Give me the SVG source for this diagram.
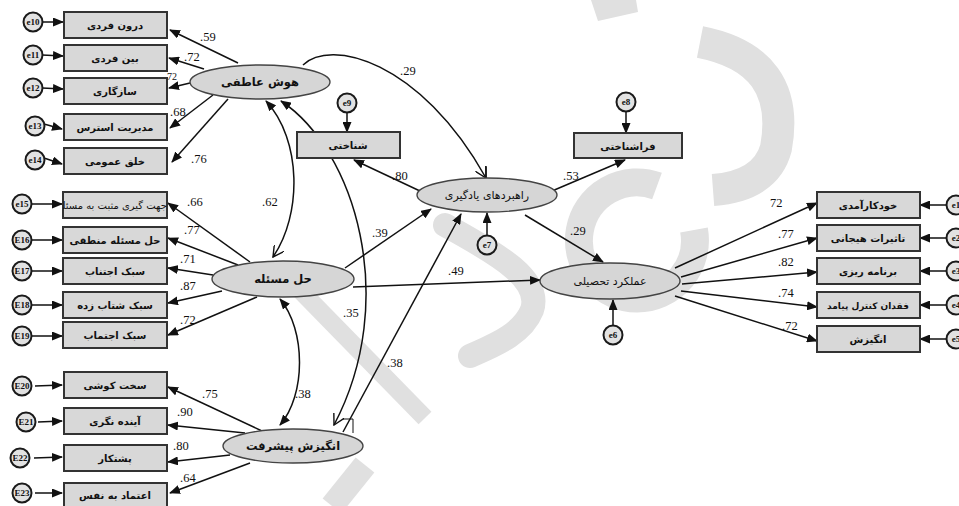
<svg xmlns="http://www.w3.org/2000/svg" width="959" height="506" viewBox="0 0 959 506">
<style>
.box{fill:#d8d8d8;stroke:#333;stroke-width:2}
.lat{fill:#d6d6d6;stroke:#444;stroke-width:1.4}
.err{fill:#e2e2e2;stroke:#1a1a1a;stroke-width:2}
.t{font-family:"DejaVu Sans",sans-serif;font-size:10px;font-weight:bold;fill:#111;text-anchor:middle}
.lt{font-family:"DejaVu Sans",sans-serif;font-size:11.5px;font-weight:bold;fill:#111;text-anchor:middle}
.et{font-family:"Liberation Serif",serif;font-size:9px;font-weight:bold;fill:#111;text-anchor:middle}
.n{font-family:"Liberation Serif",serif;font-size:12.5px;fill:#111}
.c line,.c path{stroke:#111;stroke-width:1.5;fill:none}
.a{marker-end:url(#ah)}
.o{marker-end:url(#ov)}
.wm{fill:none;stroke:#e0e0e0}
</style>
<defs>
<marker id="ah" markerWidth="11" markerHeight="9" refX="10" refY="4.5" orient="auto" markerUnits="userSpaceOnUse"><path d="M0,0 L11,4.5 L0,9 Z" fill="#111"/></marker>
<marker id="as" markerWidth="11" markerHeight="9" refX="10" refY="4.5" orient="auto-start-reverse" markerUnits="userSpaceOnUse"><path d="M0,0 L11,4.5 L0,9 Z" fill="#111"/></marker>
<marker id="ov" markerWidth="12" markerHeight="12" refX="11" refY="6" orient="auto" markerUnits="userSpaceOnUse"><path d="M0,0 L11,6 L0,12" fill="none" stroke="#111" stroke-width="1.4"/></marker>
<clipPath id="cb15"><rect x="63" y="192" width="104" height="26"/></clipPath>
</defs>

<g id="watermark">
<polygon points="591,0 636,0 638,12 598,21" fill="#e0e0e0"/>
<path class="wm" stroke-width="32" d="M700,42 Q792,60 776,148 Q766,186 713,190"/>
<path class="wm" stroke-width="28" d="M657,186 A58,58 0 1 0 694,230"/>
<path class="wm" stroke-width="24" stroke-linecap="round" d="M445,225 C500,255 542,280 532,310 C522,335 492,346 470,356"/>
<path class="wm" stroke-width="18" d="M295,285 L425,418"/>
<path class="wm" stroke-width="24" d="M365,465 L332,506"/>
</g>

<g id="connectors" class="c">
<line class="a" x1="238" y1="63" x2="170" y2="30"/>
<line class="a" x1="204" y1="69" x2="169" y2="58"/>
<line class="a" x1="190" y1="83" x2="169" y2="88"/>
<line class="a" x1="213" y1="95" x2="170" y2="128"/>
<line class="a" x1="228" y1="99" x2="172" y2="162"/>
<line class="a" x1="250" y1="262" x2="168" y2="203"/>
<line class="a" x1="238" y1="265" x2="168" y2="238"/>
<line class="a" x1="213" y1="275" x2="168" y2="268"/>
<line class="a" x1="222" y1="291" x2="168" y2="303"/>
<line class="a" x1="257" y1="297" x2="168" y2="335"/>
<line class="a" x1="262" y1="431" x2="168" y2="387"/>
<line class="a" x1="245" y1="433" x2="168" y2="425"/>
<line class="a" x1="230" y1="455" x2="168" y2="462"/>
<line class="a" x1="250" y1="463" x2="170" y2="493"/>
<line class="a" x1="42" y1="22" x2="63" y2="22"/>
<line class="a" x1="42" y1="55" x2="63" y2="56"/>
<line class="a" x1="42" y1="88" x2="63" y2="89"/>
<line class="a" x1="44" y1="124" x2="62" y2="129"/>
<line class="a" x1="44" y1="158" x2="62" y2="164"/>
<line class="a" x1="31" y1="204" x2="62" y2="204"/>
<line class="a" x1="31" y1="240" x2="62" y2="240"/>
<line class="a" x1="31" y1="271" x2="62" y2="271"/>
<line class="a" x1="31" y1="305" x2="62" y2="305"/>
<line class="a" x1="31" y1="336" x2="62" y2="336"/>
<line class="a" x1="35" y1="386" x2="62" y2="385"/>
<line class="a" x1="38" y1="422" x2="62" y2="421"/>
<line class="a" x1="34" y1="458" x2="62" y2="457"/>
<line class="a" x1="35" y1="493" x2="62" y2="493"/>
<path class="o" d="M303,65 C330,38 420,60 486,178"/>
<line x1="486" y1="166" x2="486" y2="178"/>
<line class="a" x1="420" y1="191" x2="354" y2="160"/>
<line class="a" x1="552" y1="191" x2="625" y2="160"/>
<line class="a" x1="525" y1="215" x2="603" y2="262"/>
<line class="a" x1="345" y1="268" x2="431" y2="209"/>
<line class="a" x1="353" y1="287" x2="540" y2="280"/>
<line class="a" x1="343" y1="432" x2="461" y2="214"/>
<polyline points="343,419 353,419 353,433" style="stroke:#111;stroke-width:1;fill:none"/>
<path style="marker-start:url(#as)" class="o" d="M266,101 C302,140 302,215 273,257"/>
<path style="marker-start:url(#as)" class="o" d="M281,101 C355,150 400,300 334,425"/>
<path style="marker-start:url(#as);marker-end:url(#as)" d="M280,299 C306,330 306,395 280,425"/>
<line class="a" x1="347" y1="113" x2="347" y2="132"/>
<line class="a" x1="626" y1="112" x2="626" y2="133"/>
<line class="a" x1="487" y1="235" x2="487" y2="213"/>
<line class="a" x1="613" y1="325" x2="613" y2="300"/>
<line class="a" x1="675" y1="268" x2="817" y2="203"/>
<line class="a" x1="681" y1="277" x2="817" y2="238"/>
<line class="a" x1="682" y1="284" x2="817" y2="272"/>
<line class="a" x1="681" y1="291" x2="817" y2="307"/>
<line class="a" x1="675" y1="296" x2="817" y2="341"/>
<line class="a" x1="946" y1="205" x2="920" y2="205"/>
<line class="a" x1="946" y1="238" x2="920" y2="238"/>
<line class="a" x1="946" y1="271" x2="920" y2="271"/>
<line class="a" x1="946" y1="305" x2="920" y2="305"/>
<line class="a" x1="946" y1="339" x2="920" y2="339"/>
</g>

<g id="n_eq"><ellipse class="lat" cx="260" cy="82" rx="70" ry="17"/><text class="lt" x="260" y="86">هوش عاطفی</text></g>
<g id="b_e1"><rect class="box" x="64" y="12" width="103" height="26"/><text class="t" x="115" y="29">درون فردی</text></g>
<g id="b_e2"><rect class="box" x="64" y="45" width="103" height="26"/><text class="t" x="115" y="62">بین فردی</text></g>
<g id="b_e3"><rect class="box" x="64" y="78" width="103" height="26"/><text class="t" x="115" y="95">سازگاری</text></g>
<g id="b_e4"><rect class="box" x="64" y="114" width="103" height="26"/><text class="t" x="115" y="131">مدیریت استرس</text></g>
<g id="b_e5"><rect class="box" x="64" y="148" width="103" height="26"/><text class="t" x="115" y="165">خلق عمومی</text></g>
<g id="e10"><circle class="err" cx="33" cy="22" r="9.5"/><text class="et" x="33" y="25">e10</text></g>
<g id="e11"><circle class="err" cx="33" cy="55" r="9.5"/><text class="et" x="33" y="58">e11</text></g>
<g id="e12"><circle class="err" cx="33" cy="88" r="9.5"/><text class="et" x="33" y="91">e12</text></g>
<g id="e13"><circle class="err" cx="35" cy="126" r="9.5"/><text class="et" x="35" y="129">e13</text></g>
<g id="e14"><circle class="err" cx="35" cy="160" r="9.5"/><text class="et" x="35" y="163">e14</text></g>

<g id="n_ps"><ellipse class="lat" cx="283" cy="279" rx="71" ry="18"/><text class="lt" x="283" y="283">حل مسئله</text></g>
<g id="b_p1"><rect class="box" x="63" y="192" width="104" height="26"/><text class="t" x="112" y="209" clip-path="url(#cb15)" style="font-weight:normal">جهت گیری مثبت به مسئله</text></g>
<g id="b_p2"><rect class="box" x="63" y="227" width="104" height="26"/><text class="t" x="115" y="244">حل مسئله منطقی</text></g>
<g id="b_p3"><rect class="box" x="63" y="258" width="104" height="26"/><text class="t" x="115" y="275">سبک اجتناب</text></g>
<g id="b_p4"><rect class="box" x="63" y="292" width="104" height="26"/><text class="t" x="115" y="309">سبک شتاب زده</text></g>
<g id="b_p5"><rect class="box" x="63" y="322" width="104" height="26"/><text class="t" x="115" y="339">سبک اجتماب</text></g>
<g id="e15"><circle class="err" cx="22" cy="204" r="9.5"/><text class="et" x="22" y="207">e15</text></g>
<g id="E16"><circle class="err" cx="22" cy="240" r="9.5"/><text class="et" x="22" y="243">E16</text></g>
<g id="E17"><circle class="err" cx="22" cy="271" r="9.5"/><text class="et" x="22" y="274">E17</text></g>
<g id="E18"><circle class="err" cx="22" cy="305" r="9.5"/><text class="et" x="22" y="308">E18</text></g>
<g id="E19"><circle class="err" cx="22" cy="336" r="9.5"/><text class="et" x="22" y="339">E19</text></g>

<g id="n_am"><ellipse class="lat" cx="293" cy="446" rx="70" ry="17"/><text class="lt" x="293" y="450">انگیزش پیشرفت</text></g>
<g id="b_a1"><rect class="box" x="64" y="372" width="103" height="26"/><text class="t" x="115" y="389">سخت کوشی</text></g>
<g id="b_a2"><rect class="box" x="64" y="408" width="103" height="26"/><text class="t" x="115" y="425">آینده نگری</text></g>
<g id="b_a3"><rect class="box" x="64" y="445" width="103" height="26"/><text class="t" x="115" y="462">پشتکار</text></g>
<g id="b_a4"><rect class="box" x="64" y="483" width="103" height="24"/><text class="t" x="115" y="499">اعتماد به نفس</text></g>
<g id="E20"><circle class="err" cx="22" cy="386" r="9.5"/><text class="et" x="22" y="389">E20</text></g>
<g id="E21"><circle class="err" cx="26" cy="422" r="9.5"/><text class="et" x="26" y="425">E21</text></g>
<g id="E22"><circle class="err" cx="20" cy="458" r="9.5"/><text class="et" x="20" y="461">E22</text></g>
<g id="E23"><circle class="err" cx="22" cy="493" r="9.5"/><text class="et" x="22" y="496">E23</text></g>

<g id="n_ls"><ellipse class="lat" cx="487" cy="195" rx="70" ry="17"/><text class="lt" x="487" y="199" style="font-weight:normal;font-size:11px">راهبردهای یادگیری</text></g>
<g id="b_cog"><rect class="box" x="297" y="132" width="103" height="26"/><text class="t" x="348" y="149">شناختی</text></g>
<g id="b_meta"><rect class="box" x="574" y="133" width="108" height="25"/><text class="t" x="628" y="150">فراشناختی</text></g>
<g id="e9"><circle class="err" cx="347" cy="103" r="9.5"/><text class="et" x="347" y="106">e9</text></g>
<g id="e8"><circle class="err" cx="626" cy="102" r="9.5"/><text class="et" x="626" y="105">e8</text></g>
<g id="e7"><circle class="err" cx="487" cy="245" r="9.5"/><text class="et" x="487" y="248">e7</text></g>

<g id="n_ap"><ellipse class="lat" cx="610" cy="281" rx="70" ry="18"/><text class="lt" x="610" y="285" style="font-weight:normal;font-size:11px">عملکرد تحصیلی</text></g>
<g id="e6"><circle class="err" cx="613" cy="335" r="9.5"/><text class="et" x="613" y="338">e6</text></g>
<g id="b_r1"><rect class="box" x="817" y="192" width="103" height="26"/><text class="t" x="868" y="209">خودکارآمدی</text></g>
<g id="b_r2"><rect class="box" x="817" y="225" width="103" height="26"/><text class="t" x="868" y="242">تاثیرات هیجانی</text></g>
<g id="b_r3"><rect class="box" x="817" y="258" width="103" height="26"/><text class="t" x="868" y="275">برنامه ریزی</text></g>
<g id="b_r4"><rect class="box" x="817" y="292" width="103" height="26"/><text class="t" x="868" y="309" style="font-size:9px">فقدان کنترل پیامد</text></g>
<g id="b_r5"><rect class="box" x="817" y="326" width="103" height="26"/><text class="t" x="868" y="343">انگیزش</text></g>
<g id="e1"><circle class="err" cx="956" cy="205" r="9.5"/><text class="et" x="956" y="208">e1</text></g>
<g id="e2"><circle class="err" cx="956" cy="238" r="9.5"/><text class="et" x="956" y="241">e2</text></g>
<g id="e3"><circle class="err" cx="956" cy="271" r="9.5"/><text class="et" x="956" y="274">e3</text></g>
<g id="e4"><circle class="err" cx="956" cy="305" r="9.5"/><text class="et" x="956" y="308">e4</text></g>
<g id="e5"><circle class="err" cx="956" cy="339" r="9.5"/><text class="et" x="956" y="342">e5</text></g>

<g id="labels">
<text class="n" x="200" y="41">.59</text>
<text class="n" x="184" y="61">.72</text>
<text class="n" x="167" y="80" style="font-size:10px">72</text>
<text class="n" x="170" y="116">.68</text>
<text class="n" x="191" y="163">.76</text>
<text class="n" x="187" y="206">.66</text>
<text class="n" x="184" y="234">.77</text>
<text class="n" x="180" y="263">.71</text>
<text class="n" x="180" y="290">.87</text>
<text class="n" x="180" y="324">.72</text>
<text class="n" x="262" y="206">.62</text>
<text class="n" x="202" y="398">.75</text>
<text class="n" x="177" y="416">.90</text>
<text class="n" x="173" y="450">.80</text>
<text class="n" x="180" y="482">.64</text>
<text class="n" x="295" y="398">.38</text>
<text class="n" x="343" y="317">.35</text>
<text class="n" x="387" y="367">.38</text>
<text class="n" x="400" y="75">.29</text>
<text class="n" x="392" y="180">.80</text>
<text class="n" x="563" y="180">.53</text>
<text class="n" x="372" y="237">.39</text>
<text class="n" x="570" y="235">.29</text>
<text class="n" x="448" y="275">.49</text>
<text class="n" x="770" y="207">72</text>
<text class="n" x="778" y="238">.77</text>
<text class="n" x="778" y="266">.82</text>
<text class="n" x="778" y="297">.74</text>
<text class="n" x="782" y="330">.72</text>
</g>
</svg>
